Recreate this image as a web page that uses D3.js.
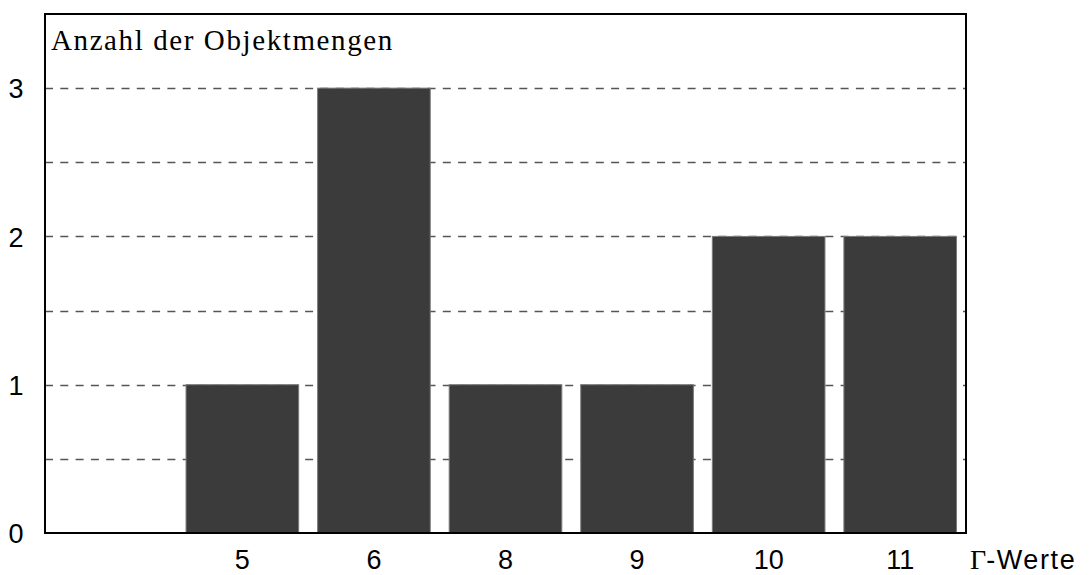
<!DOCTYPE html>
<html><head><meta charset="utf-8">
<script src="https://cdn.jsdelivr.net/npm/d3@7"></script>
<style>body{margin:0;background:#fff}svg{display:block}</style>
</head><body>
<svg id="c" width="1090" height="575"></svg>
<script>
const categories = ["", "5", "6", "8", "9", "10", "11"];
const values = [0, 1, 3, 1, 1, 2, 2];
const yTicks = [0, 1, 2, 3];
const gridValues = [0.5, 1, 1.5, 2, 2.5, 3];
const yTitle = "Anzahl der Objektmengen";
const xTitleGreek = "Γ";
const xTitleRest = "-Werte";

const svg = d3.select("#c");
const L = 45, R = 966, T = 14, B = 533;
const x = d3.scaleBand().domain(categories).range([L, R]).paddingInner(0.144).paddingOuter(0.072);
const y = d3.scaleLinear().domain([0, 3.5]).range([B, T]);

// gridlines
svg.append("g").selectAll("line").data(gridValues).join("line")
  .attr("x1", L).attr("x2", R)
  .attr("y1", d => Math.round(y(d)) + 0.5).attr("y2", d => Math.round(y(d)) + 0.5)
  .attr("stroke", "#555").attr("stroke-width", 1.3).attr("stroke-dasharray", "8,7.3");

// bars
svg.append("g").selectAll("rect").data(categories.map((c, i) => ({c, v: values[i]})).filter(d => d.v > 0)).join("rect")
  .attr("x", d => x(d.c)).attr("width", x.bandwidth())
  .attr("y", d => y(d.v)).attr("height", d => y(0) - y(d.v))
  .attr("fill", "#3b3b3b").attr("stroke", "#7a7a7a").attr("stroke-width", 1);

// frame
svg.append("rect").attr("x", L).attr("y", T).attr("width", R - L).attr("height", B - T)
  .attr("fill", "none").attr("stroke", "#000").attr("stroke-width", 2);

// y axis labels
const yAxis = d3.axisLeft(y).tickValues(yTicks).tickSize(0).tickPadding(0).tickFormat(d3.format("d"));
const ya = svg.append("g").attr("transform", `translate(${L - 22},0)`).call(yAxis);
ya.select(".domain").remove();
ya.selectAll("text").attr("text-anchor", "middle").attr("font-family", "Liberation Sans, Arial, sans-serif")
  .attr("font-size", 27).attr("fill", "#000").attr("dy", "0.36em").attr("x", -7);

// x axis labels
const xAxis = d3.axisBottom(x).tickSize(0).tickPadding(0);
const xa = svg.append("g").attr("transform", `translate(0,${B})`).call(xAxis);
xa.select(".domain").remove();
xa.selectAll("text").attr("font-family", "Liberation Sans, Arial, sans-serif")
  .attr("font-size", 27).attr("fill", "#000").attr("dy", null).attr("y", 36);

// y title
svg.append("text").attr("x", 51).attr("y", 50)
  .attr("font-family", "Liberation Serif, Times New Roman, serif").attr("font-size", 29)
  .attr("letter-spacing", 1.6).attr("fill", "#000").text(yTitle);

// x title
const xt = svg.append("text").attr("x", 970).attr("y", 569).attr("fill", "#000");
xt.append("tspan").attr("font-family", "Liberation Serif, Times New Roman, serif").attr("font-size", 28).text(xTitleGreek);
xt.append("tspan").attr("font-family", "Liberation Sans, Arial, sans-serif").attr("font-size", 27)
  .attr("letter-spacing", 1.6).text(xTitleRest);
</script>
</body></html>
